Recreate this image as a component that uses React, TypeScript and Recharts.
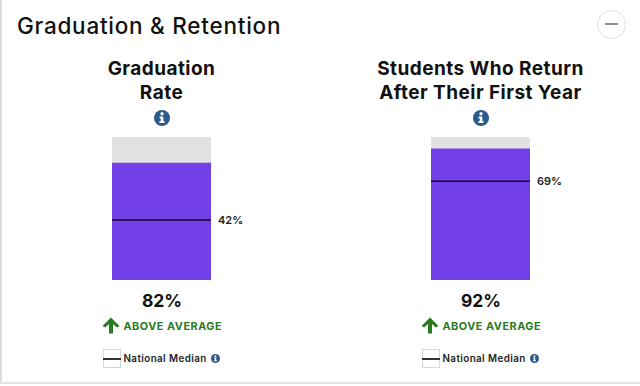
import React from "react";
import { BarChart, Bar, XAxis, YAxis, ReferenceLine } from "recharts";

const panelTitle = "Graduation & Retention";
const titles = [["Graduation", "Rate"], ["Students Who Return", "After Their First Year"]];
const values = [82, 92];
const medians = [42, 69];
const statusText = "ABOVE AVERAGE";
const legendText = "National Median";

const FONT = "Inter, 'Open Sans', sans-serif";
const BLUE = "#2b5a8c";
const GREEN = "#2a7a22";

function Abs({ x, y, w, h, style, children }: any) {
  return <div style={{ position: "absolute", left: x, top: y, width: w, height: h, ...style }}>{children}</div>;
}

function InfoIcon({ cx, cy, r }: { cx: number; cy: number; r: number }) {
  return (
    <svg style={{ position: "absolute", left: cx - r, top: cy - r }} width={r * 2} height={r * 2} viewBox="-8 -8 16 16">
      <circle cx={0} cy={0} r={8} fill={BLUE} />
      <circle cx={0} cy={-4.2} r={1.7} fill="#fff" />
      <path d="M-2.4 -1.6 H1.3 V3 H2.5 V5 H-2.5 V3 H-1.2 V0.4 H-2.4 Z" fill="#fff" />
    </svg>
  );
}

function UpArrow({ cx, top }: { cx: number; top: number }) {
  return (
    <svg style={{ position: "absolute", left: cx - 9, top }} width={18} height={17} viewBox="0 0 18 17">
      <path d="M9 0.5 L17.5 9 L14.8 10.6 L11 7 V16.5 H7 V7 L3.2 10.6 L0.5 9 Z" fill={GREEN} />
    </svg>
  );
}

function Column({ index, barLeft }: { index: number; barLeft: number }) {
  const cx = barLeft + 49.5;
  const data = [{ name: titles[index][0], value: values[index] }];
  return (
    <>
      {titles[index].map((line, i) => (
        <Abs key={line} x={cx - 130} y={56.5 + i * 24.5} w={260} h={24}
          style={{ textAlign: "center", fontFamily: FONT, fontWeight: 700, fontSize: 19, letterSpacing: 0.45, lineHeight: "24px", color: "#111", whiteSpace: "nowrap" }}>
          {line}
        </Abs>
      ))}
      <InfoIcon cx={cx} cy={117.5} r={8} />
      <Abs x={barLeft} y={137} w={150} h={143}>
        <BarChart width={150} height={143} data={data} margin={{ top: 0, right: 51, bottom: 0, left: 0 }} barCategoryGap={0}>
          <XAxis dataKey="name" hide />
          <YAxis hide domain={[0, 100]} />
          <Bar dataKey="value" fill="#7340e8" background={{ fill: "#e1e1e1" }} isAnimationActive={false} />
          <ReferenceLine y={medians[index]} stroke="#0d0a20" strokeWidth={1.5}
            label={{ value: `${medians[index]}%`, position: "right", fill: "#222", fontSize: 11, fontWeight: 600, fontFamily: FONT, dx: 2 }} />
        </BarChart>
      </Abs>
      <Abs x={cx - 60} y={289} w={121} h={24}
        style={{ textAlign: "center", fontFamily: FONT, fontWeight: 700, fontSize: 17.5, lineHeight: "24px", color: "#111" }}>
        {values[index]}%
      </Abs>
      <UpArrow cx={cx - 51} top={317} />
      <Abs x={cx - 38} y={319} w={130} h={15}
        style={{ fontFamily: FONT, fontWeight: 700, fontSize: 10.8, letterSpacing: 0.55, lineHeight: "15px", color: GREEN, whiteSpace: "nowrap" }}>
        {statusText}
      </Abs>
      <Abs x={cx - 59} y={349} w={18} h={19} style={{ border: "1px solid #d8d8d8", boxSizing: "border-box", background: "#fff" }} />
      <Abs x={cx - 59} y={358} w={18} h={1.5} style={{ background: "#333" }} />
      <Abs x={cx - 38} y={352} w={90} h={14}
        style={{ fontFamily: FONT, fontWeight: 600, fontSize: 9.8, letterSpacing: 0.42, lineHeight: "14px", color: "#222", whiteSpace: "nowrap" }}>
        {legendText}
      </Abs>
      <InfoIcon cx={cx + 54} cy={358.5} r={4.5} />
    </>
  );
}

export default function App() {
  return (
    <div style={{ position: "absolute", left: 0, top: 0, width: 640, height: 386, background: "#fff", overflow: "hidden" }}>
      <Abs x={0} y={0} w={1.5} h={382} style={{ background: "#dcdcdc" }} />
      <Abs x={0} y={382} w={640} h={1.5} style={{ background: "#e4e4e4" }} />
      <Abs x={17} y={12} w={300} h={28}
        style={{ fontFamily: FONT, fontWeight: 500, fontSize: 22.5, letterSpacing: 0.75, lineHeight: "28px", color: "#111", whiteSpace: "nowrap" }}>
        {panelTitle}
      </Abs>
      <Abs x={597} y={10} w={29} h={29} style={{ borderRadius: "50%", border: "1px solid #e0e0e0", boxSizing: "border-box", background: "#fff" }} />
      <Abs x={605} y={22.5} w={13} h={2.5} style={{ background: "#8f8f8f" }} />
      <Column index={0} barLeft={112} />
      <Column index={1} barLeft={431} />
    </div>
  );
}
